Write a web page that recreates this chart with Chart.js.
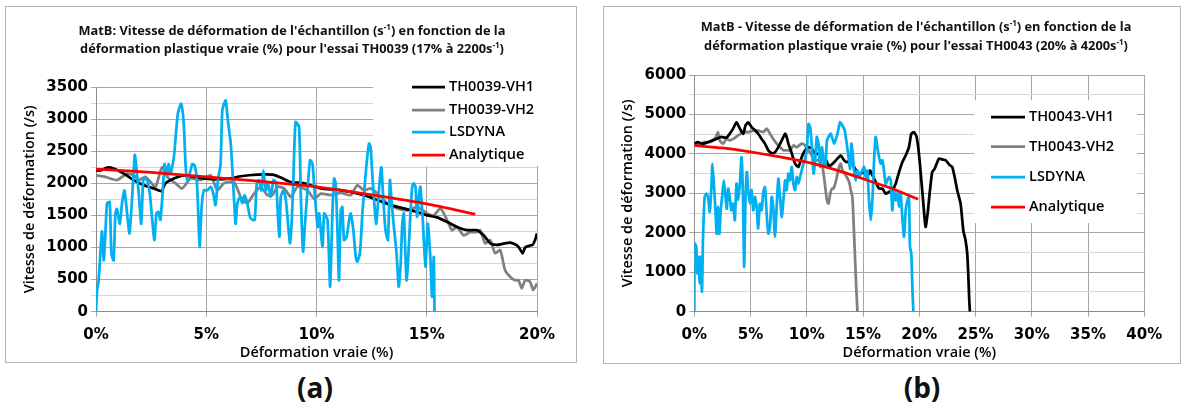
<!DOCTYPE html>
<html>
<head>
<meta charset="utf-8">
<script src="https://cdn.jsdelivr.net/npm/chart.js@4.4.0/dist/chart.umd.min.js"></script>
<style>
    body { margin: 0; width: 1182px; height: 409px; background: #fff; position: relative; overflow: hidden; font-family: 'Open Sans', sans-serif; }
    .box { position: absolute; box-sizing: border-box; border: 1px solid #b4b4b4; background: #fff; }
    .box canvas { position: absolute; left: -1px; top: -1px; }
    .title { position: absolute; text-align: center; font-weight: 700; font-size: 12.8px; color: #111; white-space: nowrap; }
    .title sup { font-size: 8px; vertical-align: 5px; line-height: 0; }
    .tag { position: absolute; font-weight: 700; font-size: 28px; color: #111; text-align: center; width: 60px; }
</style>
</head>
<body>
<div class="box" id="boxA" style="left:5px;top:6px;width:572px;height:357px;">
    <canvas id="chartA" width="572" height="357"></canvas>
    <div class="title" style="left:-254px;top:14px;width:1080px;line-height:18px;">MatB: Vitesse de déformation de l'échantillon (s<sup>-1</sup>) en fonction de la<br>déformation plastique vraie (%) pour l'essai TH0039 (17% à 2200s<sup>-1</sup>)</div>
</div>
<div class="box" id="boxB" style="left:603px;top:6px;width:578px;height:358px;">
    <canvas id="chartB" width="578" height="358"></canvas>
    <div class="title" style="left:-228px;top:10px;width:1080px;line-height:19px;">MatB - Vitesse de déformation de l'échantillon (s<sup>-1</sup>) en fonction de la<br>déformation plastique vraie (%) pour l'essai TH0043 (20% à 4200s<sup>-1</sup>)</div>
</div>
<div class="tag" style="left:285px;top:368px;">(a)</div>
<div class="tag" style="left:892px;top:368px;">(b)</div>

<script>
// === Data: essai TH0039 (a) ===
const strainA_vh1 = [0,0.2,0.5,0.8,1.26,1.71,2.17,2.62,2.97,3.15,3.53,3.98,4.44,4.89,5.5,6.11,6.56,7.32,8.0,8.38,8.83,9.44,10.2,10.95,11.55,12.15,12.76,13.36,13.96,14.56,15.02,15.47,15.92,16.37,16.82,17.27,17.58,17.88,18.18,18.48,18.78,19.0,19.16,19.35,19.46,19.68,19.8,19.91,20.0];
const rateA_vh1 = [2200,2200,2245,2230,2150,2050,1970,1920,1880,2000,2075,2125,2100,2075,2060,2075,2110,2135,2135,2090,2020,2000,1920,1900,1865,1815,1740,1660,1610,1555,1500,1470,1400,1320,1270,1270,1190,1065,1040,1060,1075,1050,1010,910,1000,1030,1040,1115,1220];

const strainA_vh2 = [0,0.42,0.95,1.41,1.71,1.94,2.24,2.47,2.7,3.0,3.3,3.61,3.91,4.29,4.74,5.2,5.5,5.8,6.26,6.56,6.86,7.17,7.47,7.77,8.0,8.23,8.53,8.83,9.14,9.59,9.89,10.2,10.65,11.1,11.55,11.85,12.15,12.45,12.76,13.21,13.66,14.11,14.56,15.02,15.32,15.62,15.92,16.14,16.37,16.67,16.97,17.27,17.42,17.65,17.88,18.1,18.33,18.55,18.78,19.0,19.16,19.31,19.46,19.68,19.83,20.0];
const rateA_vh2 = [2125,2100,2050,2150,2125,2050,2100,2020,1945,2250,2075,2000,1920,2075,2050,2125,1890,2000,2020,1790,1690,1840,1945,1815,1815,1945,1920,1790,1945,1890,1760,1840,1815,1850,1815,1970,1890,1920,1840,1690,1610,1580,1630,1530,1500,1610,1430,1270,1320,1190,1240,1240,1270,1065,1115,910,960,650,545,490,490,365,490,470,340,440];

const strainA_ls = [0,0.05,0.12,0.27,0.35,0.42,0.5,0.62,0.7,0.8,
    0.88,0.95,1.08,1.18,1.29,1.41,1.52,1.64,1.76,1.83,
    1.94,2.05,2.14,2.21,2.32,2.44,2.55,2.65,2.74,2.83,
    2.92,3.02,3.11,3.2,3.29,3.38,3.53,3.71,3.86,3.98,
    4.06,4.14,4.29,4.36,4.47,4.56,4.62,4.7,4.79,4.89,
    5.05,5.2,5.32,5.42,5.53,5.65,5.73,5.88,5.98,6.11,
    6.23,6.33,6.41,6.53,6.64,6.74,6.86,6.98,7.09,7.2,
    7.29,7.39,7.5,7.59,7.7,7.8,7.92,8.05,8.17,8.26,
    8.32,8.38,8.5,8.61,8.71,8.8,8.88,8.95,9.05,9.21,
    9.29,9.39,9.47,9.59,9.71,9.82,9.92,10.05,10.12,10.27,
    10.35,10.5,10.62,10.72,10.8,10.87,10.95,11.02,11.1,11.17,
    11.25,11.37,11.48,11.55,11.67,11.78,11.85,11.97,12.08,12.18,
    12.27,12.38,12.45,12.53,12.61,12.71,12.83,12.94,13.03,13.13,
    13.24,13.33,13.4,13.51,13.63,13.73,13.81,13.89,13.96,14.08,
    14.14,14.26,14.34,14.41,14.49,14.56,14.64,14.71,14.82,14.94,
    15.05,15.17,15.24,15.32,15.35];
const rateA_ls = [0,340,490,1250,800,1170,1690,1710,900,800,
    1530,1600,1370,1690,1890,1530,1220,1790,2440,2250,
    1840,1370,2050,2075,2050,1840,1430,1115,1530,1555,
    1430,1840,2300,2100,2300,2150,2400,3085,3240,2930,
    2300,2050,2200,2300,2280,2100,1690,1010,1630,1890,
    1890,1945,1840,1660,2050,2300,3140,3290,2980,2620,
    1945,1370,1690,1790,1690,1815,1690,1480,1430,1430,
    2000,2050,1890,2200,1890,2000,1790,2050,2000,1430,
    1170,1790,1890,1740,1370,1065,1430,2050,2955,2880,
    1790,935,1320,1890,2360,2300,1840,1320,1530,1010,
    1530,1430,390,1530,2075,2000,1270,490,1580,1630,
    1115,1170,1430,1530,1270,855,780,910,1530,1945,
    2300,2620,2570,2150,1740,1370,1890,2250,1740,1270,
    1115,2050,1740,1320,910,390,700,1370,1530,490,
    700,1530,1945,2000,1945,1480,1790,1945,1430,700,
    1370,800,233,855,0];

const strainA_an = [0,2.5,5,7.5,10,12.5,15,17.2];
const rateA_an = [2220,2170,2100,2030,1945,1820,1680,1520];

// === Data: essai TH0043 (b) ===
const strainB_vh1 = [0,0.33,0.63,1.07,1.52,1.96,2.41,2.86,3.15,3.45,
    3.75,4.05,4.35,4.55,4.79,5.09,5.39,5.68,5.98,6.28,
    6.58,6.88,7.17,7.47,7.77,8.07,8.21,8.36,8.66,8.96,
    9.26,9.55,9.85,10.15,10.45,10.74,11.04,11.34,11.64,11.93,
    12.13,12.43,12.72,13.02,13.31,13.61,13.91,14.2,14.5,14.79,
    15.09,15.38,15.62,15.83,16.12,16.42,16.72,17.01,17.31,17.6,
    17.9,18.2,18.49,18.79,19.08,19.29,19.53,19.76,19.97,20.18,
    20.36,20.56,20.77,20.95,21.15,21.36,21.54,21.75,22.04,22.34,
    22.49,22.72,22.93,23.14,23.37,23.67,23.91,24.11,24.26,24.35,
    24.44,24.5];
const rateB_vh1 = [4260,4300,4260,4280,4330,4380,4430,4410,4510,4640,
    4800,4640,4510,4720,4800,4680,4600,4510,4380,4260,
    4090,4020,4040,4170,4340,4510,4430,4260,4020,3750,
    3670,3920,4090,4170,4130,4000,4000,3920,3880,3710,
    3710,3790,3880,3960,3840,3790,3880,3670,3540,3500,
    3540,3415,3580,3460,3290,3120,3120,2990,3035,3080,
    3245,3540,3790,3960,4170,4510,4550,4430,4000,3330,
    2740,2150,2570,3080,3540,3620,3750,3880,3860,3840,
    3790,3710,3670,3415,3080,2740,2065,1810,1475,970,
    295,0];

const strainB_vh2 = [0,0.48,0.92,1.37,1.82,2.11,2.26,2.56,2.86,3.15,
    3.45,3.9,4.35,4.79,5.24,5.68,6.13,6.43,6.73,7.02,
    7.32,7.62,7.92,8.21,8.51,8.81,9.11,9.55,9.85,10.15,
    10.45,10.74,11.04,11.34,11.49,11.64,11.79,11.93,12.08,12.23,
    12.37,12.57,12.87,13.02,13.17,13.46,13.76,13.91,14.05,14.14,
    14.26,14.38,14.5];
const rateB_vh2 = [4215,4260,4300,4300,4380,4550,4340,4260,4380,4340,
    4380,4470,4550,4550,4590,4590,4550,4640,4510,4380,
    4260,4170,4090,4090,4090,4215,4170,4260,4215,4090,
    3960,3840,3840,3750,3500,3160,2825,2740,2990,3120,
    3120,3290,3670,3750,3580,3460,3290,3080,2910,2400,
    1560,715,0];

const strainB_ls = [0,0.03,0.18,0.27,0.39,0.48,0.57,0.68,0.77,0.92,
    1.07,1.22,1.37,1.52,1.61,1.76,1.88,1.99,2.11,2.23,
    2.35,2.47,2.62,2.77,2.89,3.01,3.15,3.3,3.45,3.6,
    3.75,3.9,4.05,4.2,4.32,4.43,4.55,4.67,4.79,4.94,
    5.09,5.24,5.39,5.54,5.68,5.83,5.98,6.13,6.28,6.43,
    6.58,6.73,6.88,7.02,7.17,7.32,7.47,7.62,7.77,7.92,
    8.07,8.21,8.36,8.51,8.66,8.81,8.96,9.11,9.26,9.4,
    9.55,9.7,9.85,10.0,10.15,10.3,10.45,10.6,10.74,10.89,
    11.04,11.19,11.34,11.49,11.64,11.79,11.93,12.13,12.43,12.72,
    12.96,13.17,13.37,13.55,13.67,13.85,13.96,14.08,14.2,14.35,
    14.5,14.64,14.79,14.94,15.09,15.24,15.38,15.53,15.68,15.83,
    15.98,16.12,16.27,16.42,16.57,16.72,16.86,17.01,17.16,17.31,
    17.46,17.6,17.75,17.9,18.05,18.2,18.34,18.49,18.64,18.79,
    18.94,19.08,19.17,19.29,19.38,19.47];
const rateB_ls = [0,1730,1640,970,1390,720,1390,505,1810,2910,
    2990,2910,2530,3160,3750,3160,2570,1975,2655,1975,
    2570,2910,3330,2910,2610,3120,2910,2570,2740,2320,
    3245,2825,3245,3920,2990,1140,2825,3540,3080,2740,
    3080,2570,2910,2655,2110,2740,2570,3035,3160,2490,
    1980,2150,2910,2655,1900,2655,3370,2910,2400,2825,
    3330,3080,3500,3330,3670,3245,3080,3415,3245,3415,
    3580,3750,3880,4090,4760,4680,4170,3500,3840,4430,
    4260,3670,4170,3840,3670,4340,4430,4510,4260,4510,
    4800,4720,4590,4260,4000,3620,4260,4000,3580,3330,
    3580,3415,3500,3580,3670,3415,3580,2825,2320,2825,
    3840,4430,4170,3920,3750,3840,3580,3245,3330,3415,
    3330,2570,3080,2825,3000,2655,3000,2400,1900,2570,
    2825,2910,1645,1475,630,0];

const strainB_an = [0,2.5,5,7.5,10,12.5,15,17.5,19.9];
const rateB_an = [4215,4150,4050,3930,3790,3600,3370,3130,2850];

// === Helpers ===
const tickFont = { family: 'DejaVu Sans', weight: 'bold', size: 15 };
const textFont = { family: 'Open Sans', weight: '600', size: 14.5 };

function series(label, xs, ys, color, order) {
    return {
        label: label,
        data: xs.map((x, i) => ({ x: x, y: ys[i] })),
        borderColor: color,
        backgroundColor: color,
        borderWidth: 2.75,
        pointRadius: 0,
        tension: 0.2,
        fill: false,
        order: order
    };
}

// legend drawn in a white box over the top right of the plot, like Excel does
const boxLegend = {
    id: 'boxLegend',
    afterDraw(chart) {
        const o = chart.options.plugins.boxLegend;
        const ctx = chart.ctx;
        ctx.save();
        ctx.fillStyle = '#fff';
        ctx.fillRect(o.box[0], o.box[1], o.box[2] - o.box[0], o.box[3] - o.box[1]);
        ctx.font = '600 14.5px "Open Sans"';
        ctx.textBaseline = 'middle';
        chart.data.datasets.forEach((ds, i) => {
            const y = o.rows[i];
            ctx.strokeStyle = ds.borderColor;
            ctx.lineWidth = 2.75;
            ctx.beginPath();
            ctx.moveTo(o.lineX[0], y);
            ctx.lineTo(o.lineX[1], y);
            ctx.stroke();
            ctx.fillStyle = '#000';
            ctx.fillText(ds.label, o.textX, y);
        });
        ctx.restore();
    }
};

function buildChart(canvasId, datasets, cfg) {
    const ctx = document.getElementById(canvasId).getContext('2d');
    return new Chart(ctx, {
        type: 'line',
        data: { datasets: datasets },
        options: {
            responsive: false,
            animation: false,
            layout: { padding: cfg.padding },
            scales: {
                x: {
                    type: 'linear',
                    min: 0,
                    max: cfg.xMax,
                    ticks: { stepSize: 5, autoSkip: false, maxRotation: 0, padding: 9, color: '#000', font: tickFont,
                        callback: v => v + '%' },
                    grid: { color: '#a6a6a6', tickLength: 5 },
                    border: { color: '#8c8c8c' },
                    title: { display: true, text: 'Déformation vraie (%)', color: '#000', font: textFont, padding: 0 },
                    afterFit: s => { s.height = 50; }
                },
                y: {
                    min: 0,
                    max: cfg.yMax,
                    ticks: { stepSize: cfg.yStep / 2, autoSkip: false, padding: 3, color: '#000', font: tickFont,
                        callback: v => (v % cfg.yStep === 0 ? v : '') },
                    grid: { tickLength: 5,
                        color: c => (c.tick && c.tick.value % cfg.yStep === 0 ? '#a6a6a6' : '#d6d6d6') },
                    border: { color: '#8c8c8c' },
                    title: { display: true, text: 'Vitesse de déformation (/s)', color: '#000', font: textFont, padding: 0 },
                    afterFit: s => { s.width = 75; }
                }
            },
            plugins: {
                legend: { display: false },
                tooltip: { enabled: false },
                boxLegend: cfg.legend
            }
        },
        plugins: [boxLegend]
    });
}

// === INIT ===
buildChart('chartA', [
    series('TH0039-VH1', strainA_vh1, rateA_vh1, '#000000', 2),
    series('TH0039-VH2', strainA_vh2, rateA_vh2, '#808080', 3),
    series('LSDYNA', strainA_ls, rateA_ls, '#00b0f0', 1),
    series('Analytique', strainA_an, rateA_an, '#ff0000', 0)
], {
    xMax: 20, yMax: 3500, yStep: 500,
    padding: { left: 16, right: 40, top: 81, bottom: 1.3 },
    legend: { box: [368, 78, 540, 160], rows: [81, 104, 126, 149], lineX: [407, 440], textX: 444 }
});

buildChart('chartB', [
    series('TH0043-VH1', strainB_vh1, rateB_vh1, '#000000', 2),
    series('TH0043-VH2', strainB_vh2, rateB_vh2, '#808080', 3),
    series('LSDYNA', strainB_ls, rateB_ls, '#00b0f0', 1),
    series('Analytique', strainB_an, rateB_an, '#ff0000', 0)
], {
    xMax: 40, yMax: 6000, yStep: 1000,
    padding: { left: 16.3, right: 36.7, top: 69, bottom: 2.3 },
    legend: { box: [371, 94, 534, 217], rows: [111, 140.5, 171, 201], lineX: [388, 422], textX: 426 }
});
</script>
</body>
</html>
